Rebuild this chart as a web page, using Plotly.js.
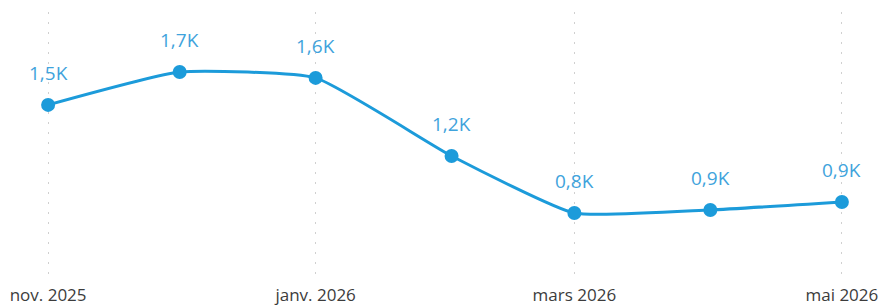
<!DOCTYPE html>
<html><head><meta charset="utf-8">
<script src="https://cdn.plot.ly/plotly-3.0.1.min.js"></script>
<style>html,body{margin:0;padding:0;background:#fff;}#chart{width:886px;height:306px;}</style>
</head><body><div id="chart"></div>
<script>
const months = ['2025-11-01','2025-12-01','2026-01-01','2026-02-01','2026-03-01','2026-04-01','2026-05-01'];
const values = [1466, 1656, 1622, 1171, 841, 859, 905];
const tickVals = ['2025-11-01','2026-01-01','2026-03-01','2026-05-01'];
const tickText = ['nov. 2025','janv. 2026','mars 2026','mai 2026'];

const fmt = v => (v/1000).toFixed(1).replace('.', ',') + 'K';
const lineColor = '#1C9BDA';
const labelColor = '#3FA3DC';

const trace = {
  x: months, y: values, type: 'scatter', mode: 'lines+markers',
  line: {color: lineColor, width: 3, shape: 'spline', smoothing: 0.45},
  marker: {color: lineColor, size: 14},
  cliponaxis: false, hoverinfo: 'skip'
};

const annotations = months.map((m, i) => ({
  x: m, y: values[i], xref: 'x', yref: 'y', text: fmt(values[i]),
  showarrow: false, yshift: 32, font: {family: 'Open Sans, sans-serif', size: 19, color: labelColor}
}));

const layout = {
  width: 886, height: 306,
  margin: {l: 47, r: 43, t: 12, b: 31},
  paper_bgcolor: '#fff', plot_bgcolor: '#fff',
  showlegend: false,
  font: {family: 'Open Sans, sans-serif'},
  xaxis: {
    type: 'date', range: ['2025-10-31 18:00', '2026-05-01 06:00'],
    tickvals: tickVals, ticktext: tickText,
    showgrid: true, gridcolor: '#D0D0D0', gridwidth: 1, griddash: '2px,8px',
    zeroline: false, showline: false, ticks: '',
    tickfont: {size: 17, color: '#3C3C3C'}, ticklabelstandoff: 8
  },
  yaxis: {
    range: [483, 2003], showgrid: false, zeroline: false, showline: false,
    showticklabels: false, ticks: ''
  },
  annotations: annotations
};

Plotly.newPlot('chart', [trace], layout, {displayModeBar: false, staticPlot: true});
</script></body></html>
